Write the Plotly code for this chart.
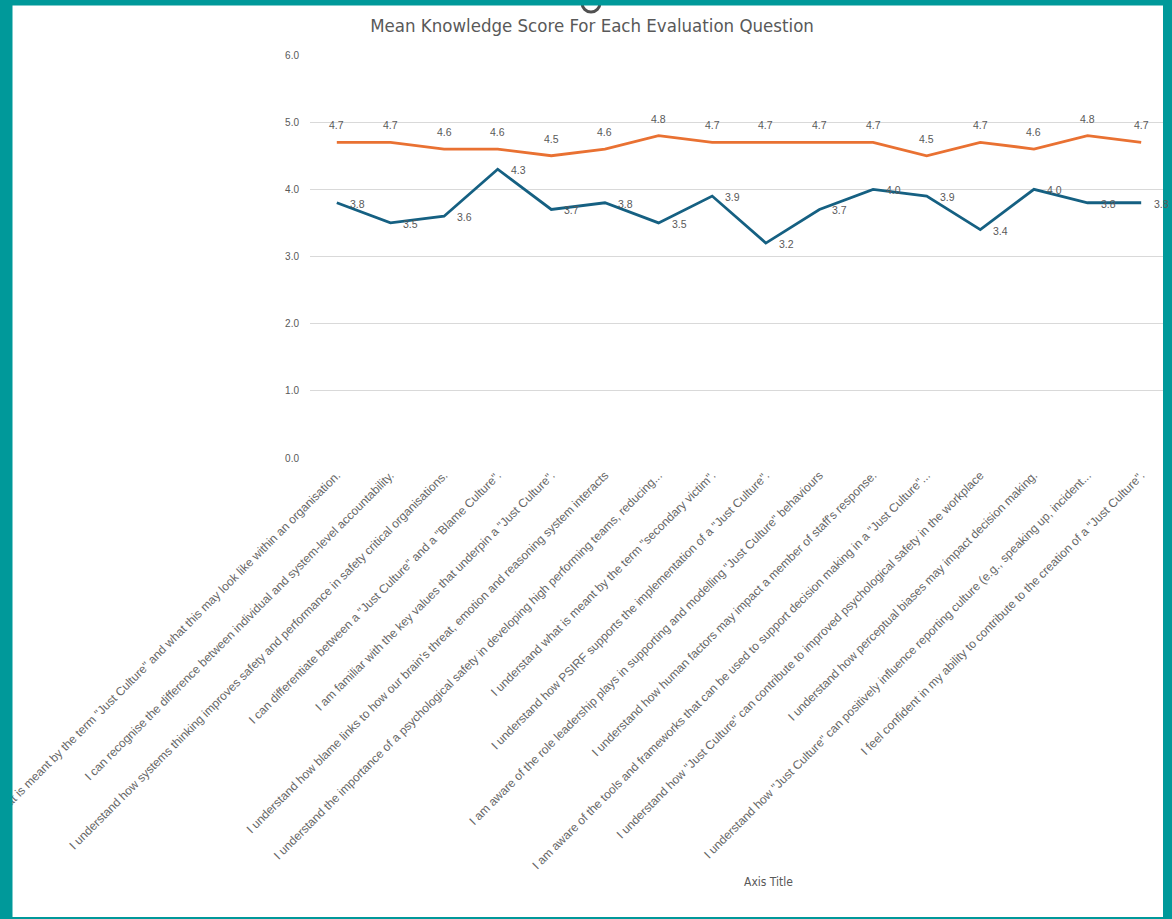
import plotly.graph_objects as go

W, H = 1172, 919
ML, MR, MT, MB = 310, 4, 55, 461

questions = [
    'I understand what is meant by the term "Just Culture" and what this may look like within an organisation.',
    'I can recognise the difference between individual and system-level accountability.',
    'I understand how systems thinking improves safety and performance in safety critical organisations.',
    'I can differentiate between a "Just Culture" and a "Blame Culture".',
    'I am familiar with the key values that underpin a "Just Culture".',
    "I understand how blame links to how our brain's threat, emotion and reasoning system interacts",
    'I understand the importance of a psychological safety in developing high performing teams, reducing...',
    'I understand what is meant by the term "secondary victim".',
    'I understand how PSIRF supports the implementation of a "Just Culture".',
    'I am aware of the role leadership plays in supporting and modelling "Just Culture" behaviours',
    "I understand how human factors may impact a member of staff's response.",
    'I am aware of the tools and frameworks that can be used to support decision making in a "Just Culture"...',
    'I understand how "Just Culture" can contribute to improved psychological safety in the workplace',
    'I understand how perceptual biases may impact decision making.',
    'I understand how "Just Culture" can positively influence reporting culture (e.g., speaking up, incident...',
    'I feel confident in my ability to contribute to the creation of a "Just Culture".',
]
post_scores = [4.7, 4.7, 4.6, 4.6, 4.5, 4.6, 4.8, 4.7, 4.7, 4.7, 4.7, 4.5, 4.7, 4.6, 4.8, 4.7]
pre_scores = [3.8, 3.5, 3.6, 4.3, 3.7, 3.8, 3.5, 3.9, 3.2, 3.7, 4.0, 3.9, 3.4, 4.0, 3.8, 3.8]
y_ticks = [0, 1, 2, 3, 4, 5, 6]

ORANGE = "#E97132"
BLUE = "#156082"
TEAL = "#00999A"
GREY = "#595959"
LABEL_FONT = dict(size=10.5, color="#595959", family="Liberation Sans, Arial")

xs = list(range(len(questions)))

fig = go.Figure()
fig.add_trace(go.Scatter(
    x=xs, y=pre_scores, mode="lines",
    line=dict(color=BLUE, width=2.8), name="Pre",
))
fig.add_trace(go.Scatter(
    x=xs, y=post_scores, mode="lines",
    line=dict(color=ORANGE, width=2.8), name="Post",
))

annotations = []
for xi, v in zip(xs, pre_scores):
    annotations.append(dict(x=xi, y=v, text=f"{v:.1f}", showarrow=False,
                            xanchor="left", yanchor="middle", xshift=11, yshift=-1,
                            font=LABEL_FONT))
for xi, v in zip(xs, post_scores):
    annotations.append(dict(x=xi, y=v, text=f"{v:.1f}", showarrow=False,
                            xanchor="center", yanchor="middle", yshift=17,
                            font=LABEL_FONT))

pw = W - ML - MR
ph = H - MT - MB
def px(x):
    return (x - ML) / pw
def py(y):
    return (H - MB - y) / ph

annotations.append(dict(text="Axis Title", xref="paper", yref="paper", x=px(768), y=py(882),
                        showarrow=False, xanchor="center", yanchor="middle",
                        font=dict(size=12, color=GREY, family="Liberation Sans Narrow, DejaVu Sans Condensed, Arial")))

shapes = [
    dict(type="rect", xref="paper", yref="paper", x0=px(-5), x1=px(12.5), y0=py(H + 5), y1=py(-5),
         fillcolor=TEAL, line=dict(width=0), layer="above"),
    dict(type="rect", xref="paper", yref="paper", x0=px(1163), x1=px(W + 5), y0=py(H + 5), y1=py(-5),
         fillcolor=TEAL, line=dict(width=0), layer="above"),
    dict(type="rect", xref="paper", yref="paper", x0=px(-5), x1=px(W + 5), y0=py(5.5), y1=py(-5),
         fillcolor=TEAL, line=dict(width=0), layer="above"),
    dict(type="rect", xref="paper", yref="paper", x0=px(-5), x1=px(W + 5), y0=py(H + 5), y1=py(917),
         fillcolor=TEAL, line=dict(width=0), layer="above"),
    dict(type="circle", xref="paper", yref="paper", x0=px(582), x1=px(600), y0=py(12), y1=py(-6),
         line=dict(color="#505050", width=3), fillcolor="rgba(0,0,0,0)", layer="below"),
]

fig.update_layout(
    width=W, height=H,
    margin=dict(l=ML, r=MR, t=MT, b=MB, autoexpand=False),
    paper_bgcolor="white", plot_bgcolor="white",
    showlegend=False,
    title=dict(text="Mean Knowledge Score For Each Evaluation Question",
               x=px(592), xanchor="center", xref="paper", y=1 - 26 / H, yanchor="middle",
               font=dict(size=18.5, color=GREY, family="Liberation Sans Narrow, DejaVu Sans Condensed, Arial Narrow")),
    xaxis=dict(
        range=[-0.5, len(questions) - 0.5],
        tickmode="array", tickvals=xs, ticktext=questions,
        tickangle=-45, automargin=False, ticklabeloverflow="allow",
        showgrid=False, zeroline=False, showline=False, ticks="",
        ticklabelstandoff=7,
        tickfont=dict(size=12, color="#666666", family="Liberation Sans, Arial"),
    ),
    yaxis=dict(
        range=[0, 6], tickvals=y_ticks, tickformat=".1f",
        showgrid=True, gridcolor="#D9D9D9", gridwidth=1,
        zeroline=False, showline=False, ticks="",
        ticklabelstandoff=10, automargin=False,
        tickfont=dict(size=10, color=GREY, family="Liberation Sans, Arial"),
    ),
    shapes=shapes,
    annotations=annotations,
)

fig.write_html("out.html")
